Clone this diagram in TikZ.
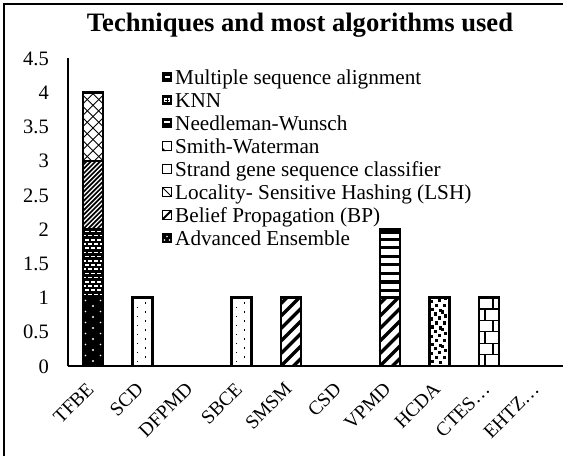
\documentclass[tikz,border=0pt]{standalone}
\usepackage{fontspec}
\setmainfont{Liberation Serif}
\tikzset{
  barline/.style={draw=black, line width=2.3pt},
  axisline/.style={draw=black, line width=1.4pt},
  ticklab/.style={inner sep=0pt, anchor=base east, font=\fontsize{20.5}{24}\selectfont},
  catlab/.style={inner sep=0pt, anchor=east, rotate=45, font=\fontsize{19.5}{24}\selectfont},
  legtext/.style={inner sep=0pt, anchor=base west, font=\fontsize{21.2}{25}\selectfont},
  legbox/.style={draw=black, line width=1.2pt},
}
% value -> vertical position (pixels, measured upward from the top edge as negative)
\newcommand{\yv}[1]{68.4*#1-366}

% ---- fill patterns: #1 centre x, #2 bottom y, #3 top y ----
% black with white dots
\newcommand{\patDots}[3]{%
  \fill[black] (#1-10,#2) rectangle (#1+10,#3);
  \foreach \k in {0,...,6}{
    \fill[white] (#1,#2+5+\k*11) circle (1.1);
    \fill[white] (#1-7.5,#2+10.5+\k*11) circle (0.8);
    \fill[white] (#1+7.5,#2+10.5+\k*11) circle (0.8);
  }}
% black with white dashes
\newcommand{\patDash}[3]{%
  \fill[black] (#1-10,#2) rectangle (#1+10,#3);
  \foreach \r in {0,...,16}{
    \pgfmathsetmacro\off{mod(\r,2)*3}
    \foreach \c in {-9,-3,3,9}{
      \fill[white] (#1+\c+\off-1.6,#2+2.5+\r*4.2) rectangle ++(3.2,1.5);
    }
  }}
% dense upward diagonals
\newcommand{\patDiag}[3]{%
  \foreach \k in {-5,...,18}{
    \draw[line width=1.7pt] (#1-10,#2+\k*4.6) -- ++(22,22);
  }}
% wide diagonal cross-hatch
\newcommand{\patCross}[3]{%
  \foreach \k in {-3,...,9}{
    \draw[line width=0.9pt] (#1-10,#2+\k*11.4) -- ++(30,30);
    \draw[line width=0.9pt] (#1+10,#2+\k*11.4) -- ++(-30,30);
  }}
% sparse black dots on white
\newcommand{\patSpark}[3]{%
  \foreach \k in {0,...,7}{
    \fill[black] (#1-6,#2+4+\k*9) rectangle ++(1.4,1.4);
    \fill[black] (#1+2.5,#2+8.5+\k*9) rectangle ++(1.4,1.4);
  }}
% wide upward stripes
\newcommand{\patWide}[3]{%
  \foreach \k in {-3,...,8}{
    \draw[line width=3.4pt] (#1-10,#2+\k*12.5) -- ++(22,22);
  }}
% horizontal stripes
\newcommand{\patHoriz}[3]{%
  \foreach \k in {0,...,7}{
    \fill[black] (#1-10,#2+5.5+\k*8.55) rectangle ++(20,3.2);
  }
  \fill[black] (#1-10,#3) rectangle (#1+10,#3-5);}
% scattered black squares
\newcommand{\patConf}[3]{%
  \foreach \t in {0,...,3}{
    \foreach \dx/\dy in {-7/2,1/1,-3/6,5/6,-8/10,0/11,6/13,-4/15,3/17}{
      \fill[black] (#1+\dx-1.5,#2+\t*17.2+\dy+1) rectangle ++(3.2,3.2);
    }
  }}
% brick wall
\newcommand{\patBrick}[3]{%
  \foreach \r in {0,...,5}{
    \draw[line width=1.3pt] (#1-10,#2+\r*11.4) -- ++(20,0);
    \pgfmathsetmacro\jx{ifthenelse(mod(\r,2)==0,-4,4)}
    \draw[line width=1.3pt] (#1+\jx,#2+\r*11.4) -- ++(0,11.4);
  }}

% one bar segment from value #2 to #3 at centre #1, filled with pattern #4
\newcommand{\seg}[4]{%
  \begin{scope}
    \clip (#1-10,\yv{#2}) rectangle (#1+10,\yv{#3});
    #4{#1}{\yv{#2}}{\yv{#3}}
  \end{scope}
  \draw[barline] (#1-10,\yv{#2}) rectangle (#1+10,\yv{#3});}

\begin{document}
\begin{tikzpicture}[x=1pt,y=1pt]
\useasboundingbox (0,-456) rectangle (568,0);

% outer frame (left and top edges)
\draw[line width=1.3pt] (4,-456) -- (4,-4) -- (563,-4);

% title
\node[font=\bfseries\fontsize{26.6}{30}\selectfont, inner sep=0pt] (title) at (300,-25) {Techniques and most algorithms used};

% axes
\coordinate (ytop) at (68,-58);
\coordinate (orig) at (68,-366);
\coordinate (xend) at (563,-366);
\draw[axisline] (ytop) -- (orig);

% tick labels
\foreach \v/\t in {0/0,0.5/0.5,1/1,1.5/1.5,2/2,2.5/2.5,3/3,3.5/3.5,4/4,4.5/4.5}{
  \node[ticklab] (tick\t) at (49,\yv{\v}-7) {\t};
}

% bars
\seg{93}{0}{1}{\patDots}
\seg{93}{1}{2}{\patDash}
\seg{93}{2}{3}{\patDiag}
\seg{93}{3}{4}{\patCross}
\seg{142.5}{0}{1}{\patSpark}
\seg{241.5}{0}{1}{\patSpark}
\seg{291}{0}{1}{\patWide}
\seg{390}{0}{1}{\patWide}
\seg{390}{1}{2}{\patHoriz}
\seg{439.5}{0}{1}{\patConf}
\seg{489}{0}{1}{\patBrick}

\draw[axisline] (orig) -- (xend);

% category labels
\foreach \cx/\lab/\nm in {93/TFBE/a,142.5/SCD/b,192/DFPMD/c,241.5/SBCE/d,291/SMSM/e,340.5/CSD/f,390/VPMD/g,439.5/HCDA/h,489/CTES…/i,538.5/EHTZ…/j}{
  \node[catlab] (cat\nm) at (\cx-2.5,-386) {\lab};
}

% legend
\foreach \i/\txt in {0/Multiple sequence alignment,1/KNN,2/Needleman-Wunsch,3/Smith-Waterman,4/Strand gene sequence classifier,5/Locality- Sensitive Hashing (LSH),6/Belief Propagation (BP),7/Advanced Ensemble}{
  \node[legtext] (leg\i) at (175,-84-23*\i) {\txt};
}
% legend keys
\begin{scope}
  % Multiple sequence alignment
  \fill[black] (162,-72) rectangle (172,-82);
  \fill[white] (164.5,-76) rectangle (169.5,-78);
  % KNN
  \fill[black] (162,-95) rectangle (172,-105);
  \fill[white] (164,-98) rectangle (166.5,-102);
  \fill[white] (167.5,-98) rectangle (170,-102);
  \fill[black] (165,-99.5) rectangle (169,-100.5);
  % Needleman-Wunsch
  \fill[black] (162,-118) rectangle (172,-128);
  \fill[white] (164,-121) rectangle (170,-123);
  % Smith-Waterman
  \draw[legbox] (162.6,-141.6) rectangle (171.4,-150.4);
  \fill[black] (162,-147) -- (166,-151) -- (162,-151) -- cycle;
  % Strand gene sequence classifier
  \draw[legbox] (162.6,-164.6) rectangle (171.4,-173.4);
  % Locality-Sensitive Hashing
  \draw[legbox] (162.6,-187.6) rectangle (171.4,-196.4);
  \draw[line width=0.9pt] (163,-188) -- (171,-196);
  % Belief Propagation
  \draw[legbox] (162.6,-210.6) rectangle (171.4,-219.4);
  \draw[line width=1.8pt] (163,-219) -- (171,-211);
  % Advanced Ensemble
  \fill[black] (162,-233) rectangle (172,-243);
  \fill[white] (167,-236.5) circle (0.9);
  \fill[white] (164.5,-240) circle (0.8);
  \fill[white] (169.5,-240) circle (0.8);
\end{scope}
\end{tikzpicture}
\end{document}
